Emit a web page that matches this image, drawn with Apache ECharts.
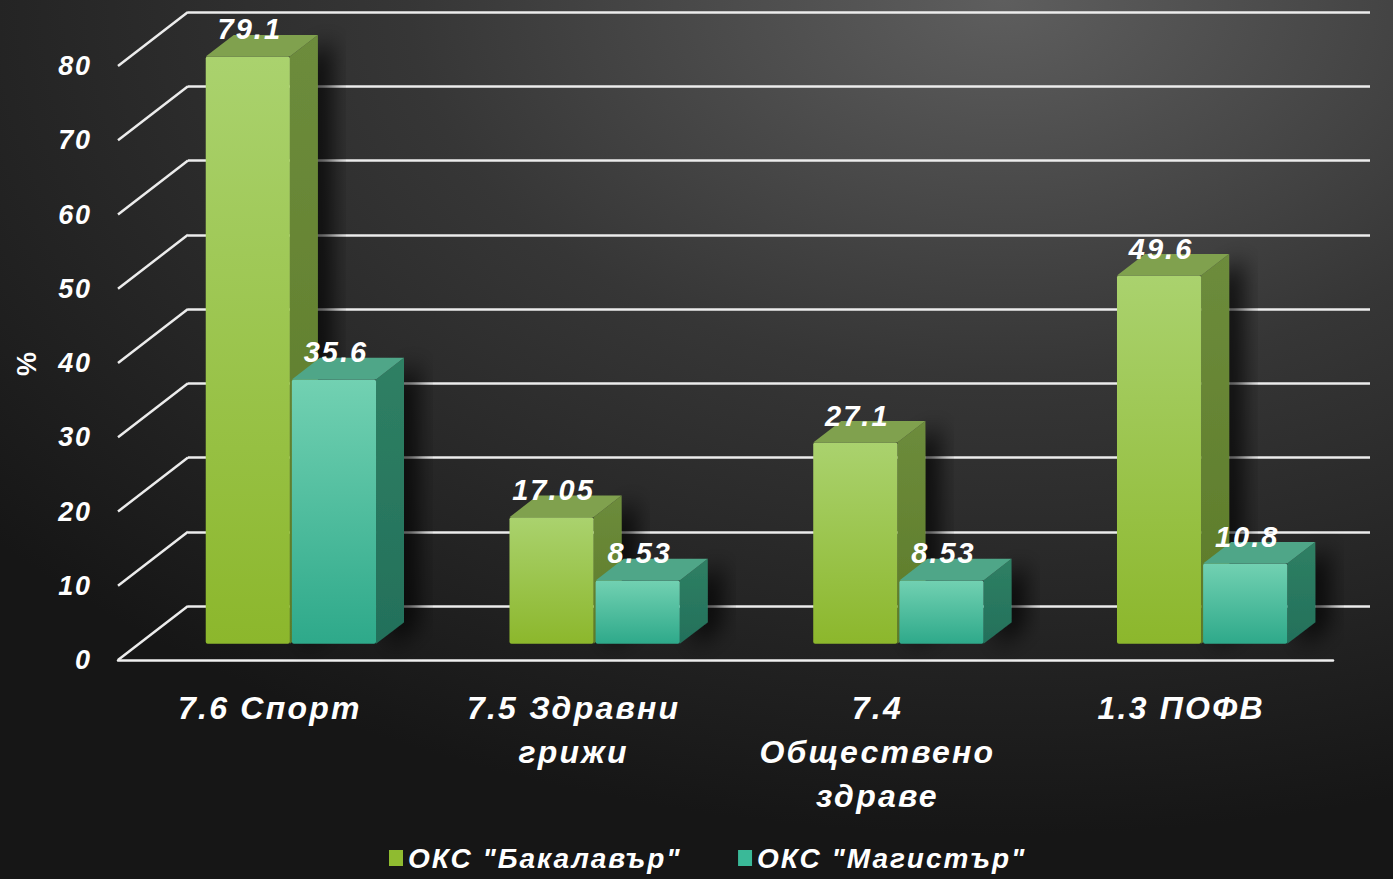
<!DOCTYPE html>
<html>
<head>
<meta charset="utf-8">
<script src="https://cdn.jsdelivr.net/npm/echarts@6/dist/echarts.min.js"></script>
<style>
html,body{margin:0;padding:0;background:#1c1c1c;}
#chart{width:1393px;height:879px;}
#chart text{letter-spacing:0.07em;}
</style>
</head>
<body>
<div id="chart"></div>
<script>
// ---- data ----
const categories = ['7.6 Спорт', '7.5 Здравни\nгрижи', '7.4\nОбществено\nздраве', '1.3 ПОФВ'];
const bachelorName = 'ОКС "Бакалавър"';
const masterName = 'ОКС "Магистър"';
const bachelorValues = [79.1, 17.05, 27.1, 49.6];
const masterValues = [35.6, 8.53, 8.53, 10.8];
const bachelorLabels = ['79.1', '17.05', '27.1', '49.6'];
const masterLabels = ['35.6', '8.53', '8.53', '10.8'];
const yTicks = [0, 10, 20, 30, 40, 50, 60, 70, 80];
const yAxisName = '%';

// ---- layout ----
const W = 1393, H = 879;
const BACK = {left: 188, right: 23, top: 12, bottom: 273};
const FRONT = {left: 118, right: 60, top: 66, bottom: 219};
const DEPTH_DX = BACK.left - FRONT.left;               // 70
const DEPTH_DY = (H - BACK.bottom) - (H - FRONT.bottom); // -54
const BAR_FRONT_T = 0.3;   // bar front face depth fraction
const BAR_DEPTH_T = 0.4;   // bar depth fraction
const FONT = '"Liberation Sans", Arial, sans-serif';

const palette = {
  green: {front: ['#aad26e', '#8cb72c'], top: '#80a14e', side: ['#6d8c3c', '#5c7a28'], legend: '#8fbb30'},
  teal: {front: ['#72d1b2', '#2ea98a'], top: '#4fa688', side: ['#2f8064', '#23705a'], legend: '#3ab998'}
};

function barRender(values, labels, pal, side) {
  return function (params, api) {
    const i = api.value(0);
    const v = api.value(1);
    const p0 = api.coord([i, 0]);
    const p1 = api.coord([i, v]);
    const band = api.size([1, 0])[0];
    const w = band * 0.277;
    const fdx = DEPTH_DX * BAR_FRONT_T, fdy = DEPTH_DY * BAR_FRONT_T;
    const ddx = DEPTH_DX * BAR_DEPTH_T, ddy = DEPTH_DY * BAR_DEPTH_T;
    const x0 = p0[0] + fdx + (side < 0 ? -1 - w : 1);
    const yB = p0[1] + fdy;
    const yT = p1[1] + fdy;
    return {
      type: 'group',
      children: [
        {
          type: 'polygon',
          shape: {points: [[x0 + w, yT], [x0 + w + ddx, yT + ddy], [x0 + w + ddx, yB + ddy], [x0 + w, yB]]},
          style: {
            fill: new echarts.graphic.LinearGradient(0, 0, 0, 1, [{offset: 0, color: pal.side[0]}, {offset: 1, color: pal.side[1]}]),
            shadowColor: 'rgba(0,0,0,0.75)', shadowBlur: 22, shadowOffsetX: 14, shadowOffsetY: 4
          }
        },
        {
          type: 'rect',
          shape: {x: x0, y: yT, width: w, height: yB - yT, r: 2},
          style: {
            fill: new echarts.graphic.LinearGradient(0, 0, 0, 1, [{offset: 0, color: pal.front[0]}, {offset: 1, color: pal.front[1]}])
          }
        },
        {
          type: 'polygon',
          shape: {points: [[x0, yT], [x0 + w, yT], [x0 + w + ddx, yT + ddy], [x0 + ddx, yT + ddy]]},
          style: {fill: pal.top}
        },
        {
          type: 'text',
          z2: 50,
          style: {
            x: x0 + w / 2 + 2, y: yT - 27,
            text: labels[params.dataIndex],
            fill: '#ffffff',
            font: 'italic bold 29px ' + FONT,
            align: 'center', verticalAlign: 'middle'
          }
        }
      ]
    };
  };
}

const chart = echarts.init(document.getElementById('chart'), null, {renderer: 'svg'});
chart.setOption({
  animation: false,
  backgroundColor: {
    type: 'radial', x: 0.72, y: 0.0, r: 0.95,
    colorStops: [
      {offset: 0, color: '#5e5e5e'},
      {offset: 0.45, color: '#363636'},
      {offset: 1, color: '#161616'}
    ]
  },
  textStyle: {fontFamily: FONT},
  grid: [
    {left: BACK.left, right: BACK.right, top: BACK.top, bottom: BACK.bottom},
    {left: FRONT.left, right: FRONT.right, top: FRONT.top, bottom: FRONT.bottom}
  ],
  legend: {
    bottom: 2, left: 384,
    itemWidth: 14, itemHeight: 16, itemGap: 86,
    icon: 'rect',
    data: [bachelorName, masterName],
    textStyle: {color: '#ffffff', fontSize: 28, fontWeight: 'bold', fontStyle: 'italic', fontFamily: FONT}
  },
  xAxis: [
    {
      gridIndex: 0, type: 'category', data: categories,
      axisLine: {show: false}, axisTick: {show: false}, axisLabel: {show: false}, splitLine: {show: false}
    },
    {
      gridIndex: 1, type: 'category', data: categories,
      axisLine: {show: true, lineStyle: {color: '#f0f0f0', width: 2.5}},
      axisTick: {show: false},
      axisLabel: {
        color: '#ffffff', fontSize: 32, fontWeight: 'bold', fontStyle: 'italic', fontFamily: FONT,
        margin: 26, lineHeight: 44, interval: 0
      },
      splitLine: {show: false}
    }
  ],
  yAxis: [
    {
      gridIndex: 0, type: 'value', min: 0, max: 80, interval: 10,
      axisLine: {show: false}, axisTick: {show: false}, axisLabel: {show: false},
      splitLine: {show: true, lineStyle: {color: '#ececec', width: 2.5}}
    },
    {
      gridIndex: 1, type: 'value', min: 0, max: 80, interval: 10,
      axisLine: {show: false}, axisTick: {show: false}, splitLine: {show: false},
      axisLabel: {color: '#ffffff', fontSize: 27, fontWeight: 'bold', fontStyle: 'italic', fontFamily: FONT, margin: 26, padding: [6, 0, 0, 0]},
      name: yAxisName, nameLocation: 'middle', nameRotate: 90, nameGap: 78,
      nameTextStyle: {color: '#ffffff', fontSize: 27, fontWeight: 'bold', fontFamily: FONT}
    }
  ],
  series: [
    {
      type: 'custom', name: 'depth-lines', xAxisIndex: 0, yAxisIndex: 0, silent: true,
      data: yTicks.map(t => [0, t]),
      renderItem: function (params, api) {
        const y = api.coord([0, api.value(1)])[1];
        const x = params.coordSys.x;
        return {
          type: 'line',
          shape: {x1: x, y1: y, x2: x - DEPTH_DX, y2: y - DEPTH_DY},
          style: {stroke: '#ececec', lineWidth: 2.5}
        };
      }
    },
    {
      type: 'custom', name: bachelorName, xAxisIndex: 1, yAxisIndex: 1,
      itemStyle: {color: palette.green.legend},
      data: bachelorValues.map((v, i) => [i, v]),
      renderItem: barRender(bachelorValues, bachelorLabels, palette.green, -1),
      z: 3
    },
    {
      type: 'custom', name: masterName, xAxisIndex: 1, yAxisIndex: 1,
      itemStyle: {color: palette.teal.legend},
      data: masterValues.map((v, i) => [i, v]),
      renderItem: barRender(masterValues, masterLabels, palette.teal, 1),
      z: 4
    }
  ]
});
</script>
</body>
</html>
